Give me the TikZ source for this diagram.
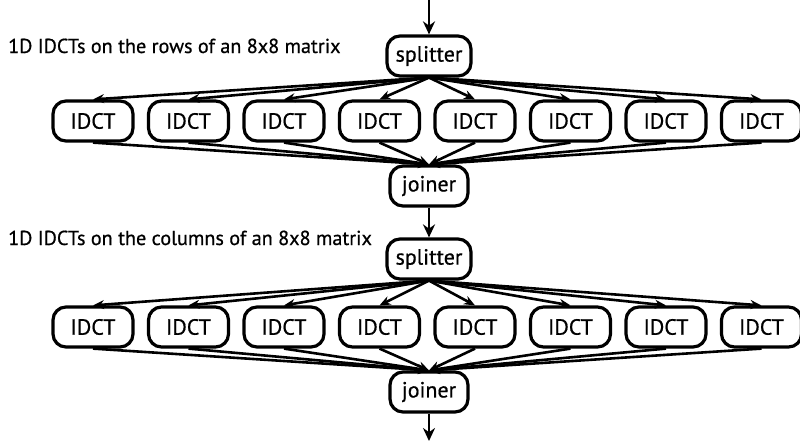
\documentclass[tikz,border=0pt]{standalone}
\usepackage{fontspec}
\setmainfont{PT Sans}
\newfontfamily\heavysans{PT Sans}[FakeBold=0.6]
\usetikzlibrary{arrows.meta}
\begin{document}
\begin{tikzpicture}[x=1pt,y=-1pt,
  blk/.style={draw, line width=3.2pt, rounded corners=13pt, minimum width=80pt,
    minimum height=40pt, inner sep=0pt, font=\heavysans\fontsize{22}{26}\selectfont},
  flow/.style={line width=2.8pt, -{Stealth[length=13pt,width=12pt]}},
  fan/.style={line width=2.6pt, -{Stealth[length=11pt,width=9pt]}},
  lbl/.style={anchor=base west, inner sep=0pt, font=\heavysans\fontsize{20.2}{24}\selectfont}]
\useasboundingbox (0,0) rectangle (800,442);

% first stage: row transforms
\node[lbl] (l1) at (8,53) {1D IDCTs on the rows of an 8x8 matrix};
\node[blk, minimum width=84pt] (s1) at (429,56) {splitter};
\node[blk, minimum width=78pt] (j1) at (429,186) {joiner};
\foreach \i in {1,...,8}
  \node[blk] (r\i) at ({93+95.5*(\i-1)},121) {IDCT};

% second stage: column transforms
\node[lbl] (l2) at (8,245) {1D IDCTs on the columns of an 8x8 matrix};
\node[blk, minimum width=84pt] (s2) at (429,259) {splitter};
\node[blk, minimum width=78pt] (j2) at (429,392) {joiner};
\foreach \i in {1,...,8}
  \node[blk] (c\i) at ({93+95.5*(\i-1)},327) {IDCT};

% input and output
\coordinate (in) at (429,0);
\coordinate (out) at (429,441);
\draw[flow] (in) -- (s1);
\draw[flow] (j1) -- (s2);
\draw[flow] (j2) -- (out);

% split and join fans
\foreach \i in {1,...,8} {
  \draw[fan] (s1.south) -- (r\i.north);
  \draw[fan] (r\i.south) -- (j1.north);
  \draw[fan] (s2.south) -- (c\i.north);
  \draw[fan] (c\i.south) -- (j2.north);
}
\end{tikzpicture}
\end{document}
